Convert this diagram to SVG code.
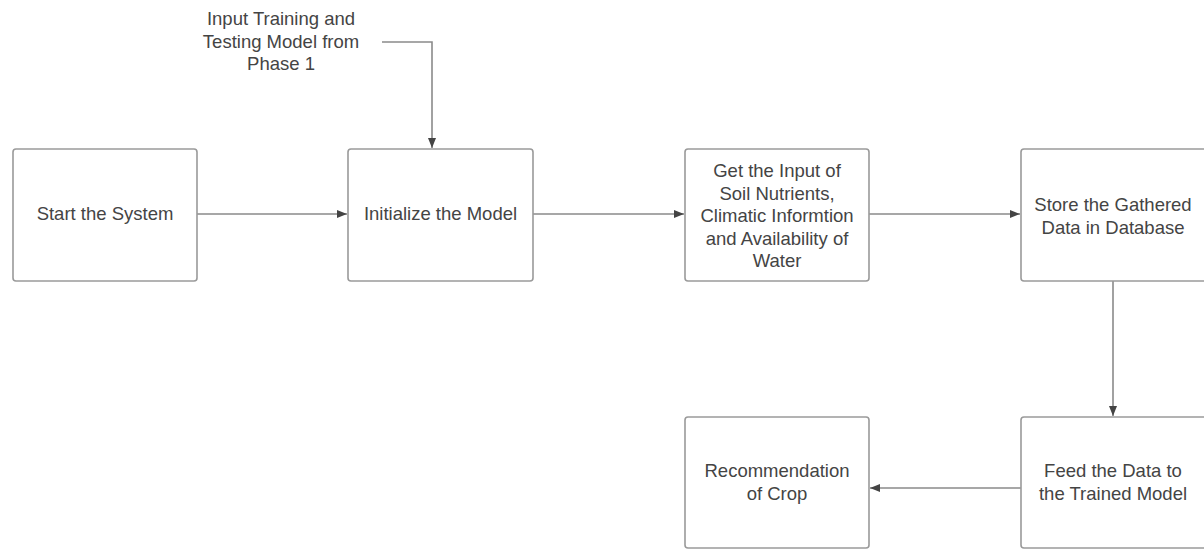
<svg xmlns="http://www.w3.org/2000/svg" width="1204" height="550" viewBox="0 0 1204 550">
<style>
.box{fill:#fff;stroke:#9a9a9a;stroke-width:1.6}
.t{font-family:"Liberation Sans",Arial,sans-serif;font-size:18.5px;fill:#444;text-anchor:middle}
.c{fill:none;stroke:#8a8a8a;stroke-width:1.6}
</style>
<defs>
<marker id="ah" viewBox="0 0 10 10" refX="10" refY="5" markerWidth="10" markerHeight="10" markerUnits="userSpaceOnUse" orient="auto">
<path d="M0,1 L10,5 L0,9 Z" fill="#444"/>
</marker>
</defs>
<rect width="1204" height="550" fill="#fff"/>
<g id="connectors">
<path class="c" d="M197,214 H347" marker-end="url(#ah)"/>
<path class="c" d="M533,214 H684" marker-end="url(#ah)"/>
<path class="c" d="M869,214 H1020" marker-end="url(#ah)"/>
<path class="c" d="M1113,281 V416" marker-end="url(#ah)"/>
<path class="c" d="M1021,488 H870" marker-end="url(#ah)"/>
<path class="c" d="M382,42 H432 V148" marker-end="url(#ah)"/>
</g>
<g id="input-label">
<text class="t" x="281" y="24.5">Input Training and</text>
<text class="t" x="281" y="47.5">Testing Model from</text>
<text class="t" x="281" y="70">Phase 1</text>
</g>
<g id="start">
<rect class="box" x="13" y="149" width="184" height="132" rx="3"/>
<text class="t" x="105" y="220">Start the System</text>
</g>
<g id="init">
<rect class="box" x="348" y="149" width="185" height="132" rx="3"/>
<text class="t" x="440.5" y="220">Initialize the Model</text>
</g>
<g id="input">
<rect class="box" x="685" y="149" width="184" height="132" rx="3"/>
<text class="t" x="777" y="177">Get the Input of</text>
<text class="t" x="777" y="199.5">Soil Nutrients,</text>
<text class="t" x="777" y="222">Climatic Informtion</text>
<text class="t" x="777" y="244.5">and Availability of</text>
<text class="t" x="777" y="267">Water</text>
</g>
<g id="store">
<rect class="box" x="1021" y="149" width="186" height="132" rx="3"/>
<text class="t" x="1113" y="210.5">Store the Gathered</text>
<text class="t" x="1113" y="233.5">Data in Database</text>
</g>
<g id="feed">
<rect class="box" x="1021" y="417" width="186" height="131" rx="3"/>
<text class="t" x="1113" y="476.5">Feed the Data to</text>
<text class="t" x="1113" y="499.5">the Trained Model</text>
</g>
<g id="recommend">
<rect class="box" x="685" y="417" width="184" height="131" rx="3"/>
<text class="t" x="777" y="476.5">Recommendation</text>
<text class="t" x="777" y="499.5">of Crop</text>
</g>
</svg>
